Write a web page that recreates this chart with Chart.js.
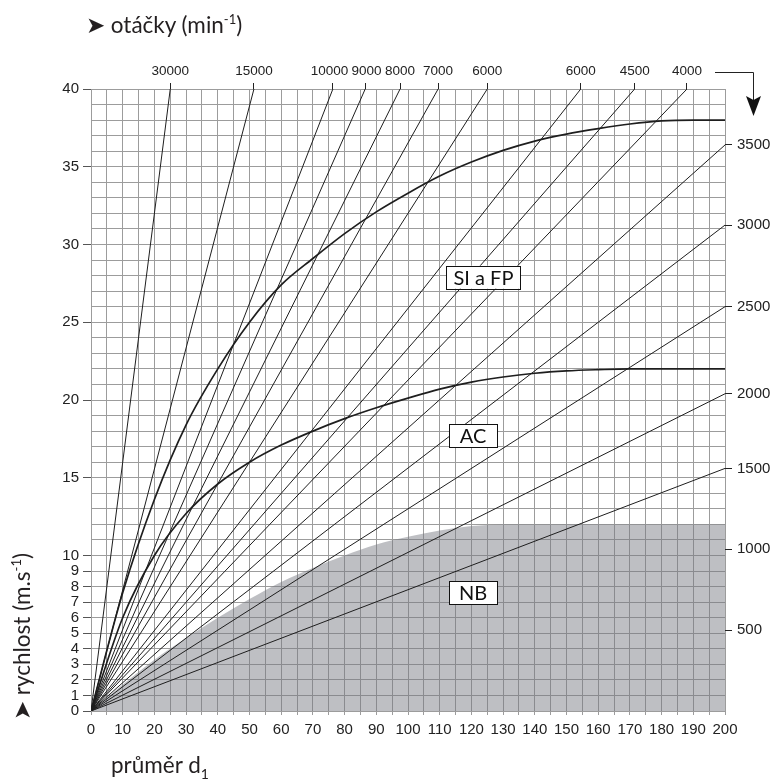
<!DOCTYPE html>
<html>
<head>
<meta charset="utf-8">
<script src="https://cdn.jsdelivr.net/npm/chart.js@4.4.1/dist/chart.umd.min.js"></script>
<style>
html,body{margin:0;padding:0;background:#fff;}
#wrap{position:relative;width:771px;height:781px;}
.ttl{position:absolute;font-family:Lato,"Noto Sans",sans-serif;font-size:22.5px;line-height:26px;color:#231f20;white-space:nowrap;}
.ttl sup{font-size:13px;vertical-align:0;position:relative;top:-9px;}
.ttl sub{font-size:14px;vertical-align:0;position:relative;top:6px;}
#yTitle{left:9px;top:720px;transform:rotate(-90deg);transform-origin:0 0;line-height:26px;}
</style>
</head>
<body>
<div id="wrap">
  <canvas id="chart" width="771" height="781"></canvas>
  <div class="ttl" style="left:86px;top:12px;">&#10148; otáčky (min<sup>-1</sup>)</div>
  <div class="ttl" style="left:111px;top:752px;">průměr d<sub>1</sub></div>
  <div class="ttl" id="yTitle">&#10148; rychlost (m.s<sup>-1</sup>)</div>
</div>
<script>
/* ---------- DATA ---------- */

// průměr d1 (mm)
const diam = [0,10,20,30,40,50,60,70,80,90,100,110,120,130,140,150,160,170,180,190,200]
// rychlost (m/s) – hranice oblastí
const siFp = [0,7.6,13.6,18.4,22.0,25.0,27.4,29.1,30.7,32.1,33.3,34.4,35.3,36.05,36.65,37.1,37.45,37.75,37.95,38.0,38.0]
const ac   = [0,6.0,10.0,12.7,14.6,16.0,17.1,18.0,18.8,19.5,20.12,20.7,21.15,21.48,21.72,21.87,21.95,22,22,22,22]
const nb   = [0,1.7,3.3,4.7,6.0,7.2,8.3,9.2,10.0,10.7,11.2,11.6,11.9,12.0,12,12,12,12,12,12,12]

// otáčky – přímky vycházející horním okrajem (průměr při v = 40)
const topRpm   = ['30000','15000','10000','9000','8000','7000','6000','6000','4500','4000']
const topExitD = [25.0, 51.4, 76.3, 86.5, 97.5, 109.5, 125.0, 154.5, 171.5, 188.0]
// otáčky – značky na pravém okraji (rychlost při d = 200)
const rightRpm   = ['3500','3000','2500','2000','1500','1000','500']
const rightExitV = [36.4, 31.25, 26.0, 20.4, 15.6, 10.4, 5.2]
// přímky kreslené v grafu (1000 a 500 jen jako značka)
const rightDrawn = ['3500','3000','2500','2000','1500']

const xLabels = [0,10,20,30,40,50,60,70,80,90,100,110,120,130,140,150,160,170,180,190,200]
const yLabels = [0,1,2,3,4,5,6,7,8,9,10,15,20,25,30,35,40]

const zoneNames = ['SI a FP','AC','NB']


/* ---------- CHART ---------- */

const gridCol = '#9c9c9c'
const inkCol = '#1e1e1e'
const tickFont = {family:"'Liberation Sans',Arial,sans-serif", size:15}
const topFont = {family:"'Liberation Sans',Arial,sans-serif", size:13.5}

const rpmLines = []
topExitD.forEach((d,i) => {
  rpmLines.push({label:topRpm[i], data:[{x:0,y:0},{x:d,y:40}],
    borderColor:inkCol, borderWidth:1, xAxisID:'x', yAxisID:'y', order:0})
})
rightExitV.forEach((v,i) => {
  if (!rightDrawn.includes(rightRpm[i])) return
  rpmLines.push({label:rightRpm[i], data:[{x:0,y:0},{x:200,y:v}],
    borderColor:inkCol, borderWidth:1, xAxisID:'x', yAxisID:'y', order:0})
})

const curve = (name, vals, extra) => Object.assign({
  label:name,
  data:diam.map((d,i) => ({x:d, y:vals[i]})),
  borderColor:inkCol, borderWidth:1.7,
  cubicInterpolationMode:'monotone',
  xAxisID:'x', yAxisID:'y', order:0
}, extra||{})

const gridSteps = (max, step) => { const a=[]; for(let v=0; v<=max; v+=step) a.push({value:v}); return a }

// crowded top labels: nudge 10000 left, 9000 right
const topLabel = (i) => {
  const t = topRpm[i]
  if (i === 2) return t + '\u2002'
  if (i === 3) return '\u2009' + t
  return t
}

const overlay = {
  id:'overlay',
  afterDraw(chart) {
    const {ctx} = chart
    const x = chart.scales.x, y = chart.scales.y
    ctx.save()
    // boxes with zone names
    const boxPos = [[123.8,27.9,74],[120.5,17.7,48],[120.5,7.6,48]]
    ctx.font = "20px Lato, 'Noto Sans', sans-serif"
    ctx.textAlign = 'center'
    ctx.textBaseline = 'middle'
    zoneNames.forEach((n,i) => {
      const cx = x.getPixelForValue(boxPos[i][0]), cy = y.getPixelForValue(boxPos[i][1])
      const w = boxPos[i][2], h = 23
      ctx.fillStyle = '#fff'
      ctx.fillRect(cx-w/2, cy-h/2, w, h)
      ctx.strokeStyle = '#111'
      ctx.lineWidth = 1
      ctx.strokeRect(Math.round(cx-w/2)+0.5, Math.round(cy-h/2)+0.5, w, h)
      ctx.fillStyle = '#111'
      ctx.fillText(n, cx, cy+1)
    })
    // corner arrow after the last top label
    ctx.strokeStyle = '#222'
    ctx.lineWidth = 1
    ctx.beginPath()
    ctx.moveTo(715, 72.5)
    ctx.lineTo(753.5, 72.5)
    ctx.lineTo(753.5, 100)
    ctx.stroke()
    ctx.fillStyle = '#111'
    ctx.beginPath()
    ctx.moveTo(746, 96)
    ctx.lineTo(753.5, 100)
    ctx.lineTo(761, 96)
    ctx.lineTo(753.5, 116)
    ctx.closePath()
    ctx.fill()
    ctx.restore()
  }
}

try {
  new Chart(document.getElementById('chart'), {
    type:'line',
    data:{
      datasets:[
        ...rpmLines,
        curve('SI a FP', siFp),
        curve('AC', ac),
        curve('NB', nb, {borderWidth:0, borderColor:'rgba(0,0,0,0)', fill:'origin',
          backgroundColor:'rgba(120,121,130,0.48)', order:5})
      ]
    },
    options:{
      responsive:false,
      animation:false,
      events:[],
      layout:{padding:{left:38, right:0, top:50, bottom:45}},
      elements:{point:{radius:0}},
      plugins:{legend:{display:false}, tooltip:{enabled:false}},
      scales:{
        x:{
          type:'linear', position:'bottom', min:0, max:200,
          afterBuildTicks:s => { s.ticks = gridSteps(200,5) },
          afterFit:s => { s.height = 25 },
          ticks:{autoSkip:false, maxRotation:0, padding:6, color:'#222', font:tickFont,
            callback:v => xLabels.includes(v) ? String(v) : ''},
          grid:{color:gridCol, tickColor:gridCol, tickLength:4},
          border:{color:gridCol}
        },
        xTop:{
          type:'linear', position:'top', min:0, max:200,
          afterBuildTicks:s => { s.ticks = topExitD.map(v => ({value:v})) },
          afterFit:s => { s.height = 39 },
          ticks:{autoSkip:false, maxRotation:0, padding:4, color:'#222', font:topFont,
            callback:(v,i) => topLabel(i)},
          grid:{drawOnChartArea:false, tickColor:'#222', tickLength:6},
          border:{display:false}
        },
        y:{
          type:'linear', position:'left', min:0, max:40,
          afterBuildTicks:s => { s.ticks = gridSteps(40,1) },
          afterFit:s => { s.width = 53 },
          ticks:{autoSkip:false, padding:4, color:'#222', font:tickFont,
            callback:v => yLabels.includes(v) ? String(v) : ''},
          grid:{color:gridCol, tickLength:8,
            tickColor:c => (c.tick && yLabels.includes(c.tick.value)) ? '#555' : 'rgba(0,0,0,0)'},
          border:{color:gridCol}
        },
        yRight:{
          type:'linear', position:'right', min:0, max:40,
          afterBuildTicks:s => { s.ticks = rightExitV.map(v => ({value:v})) },
          afterFit:s => { s.width = 46 },
          ticks:{autoSkip:false, padding:5, color:'#222', font:tickFont,
            callback:(v,i) => rightRpm[i]},
          grid:{drawOnChartArea:false, tickColor:'#222', tickLength:7},
          border:{display:false}
        }
      }
    },
    plugins:[overlay]
  })
} catch(e) {
  console.error('Error initializing chart:', e)
}
</script>
</body>
</html>
